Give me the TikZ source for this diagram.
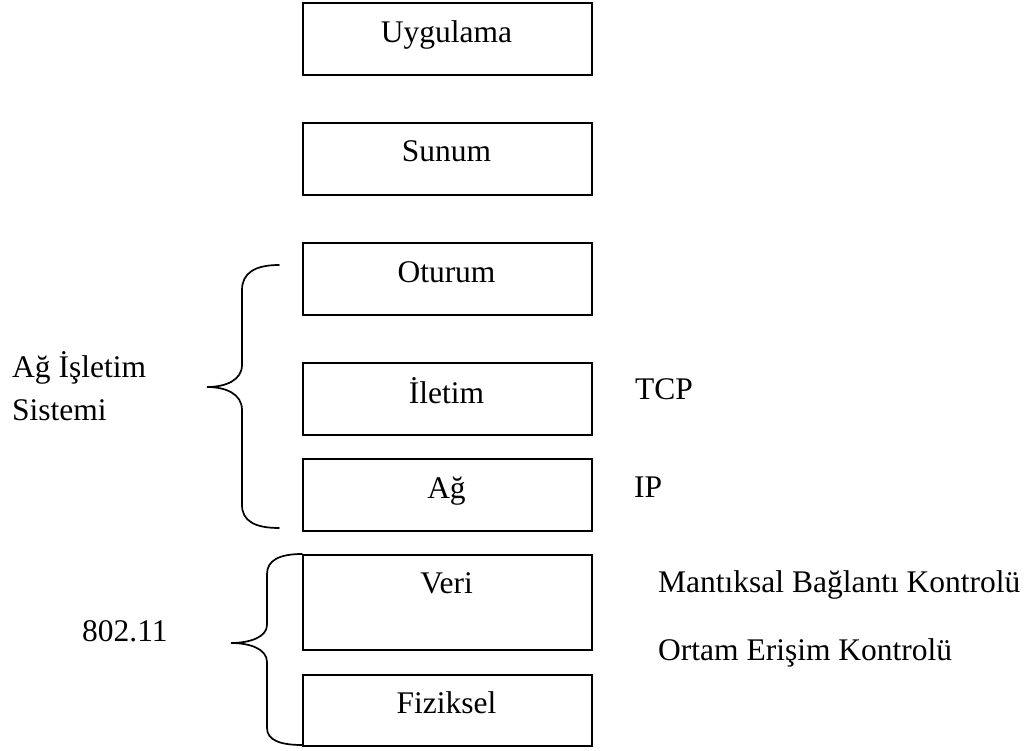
\documentclass[tikz,border=0pt]{standalone}
\usepackage{fontspec}
\setmainfont{Liberation Serif}
\begin{document}
\begin{tikzpicture}[x=1pt,y=-1pt,
  layer/.style={draw=black,line width=1.7pt,anchor=north west,minimum width=289pt,inner sep=0pt},
  txt/.style={anchor=base,inner sep=0pt,font=\fontsize{31.5}{38}\selectfont},
  ltxt/.style={anchor=base west,inner sep=0pt,font=\fontsize{31.5}{38}\selectfont},
  brace/.style={draw=black,line width=1.7pt,line cap=round}]
\useasboundingbox (0,0) rectangle (1036,751);

% protocol layers
\node[layer,minimum height=72pt] (uyg) at (302,2) {};
\node[layer,minimum height=72pt] (sun) at (302,122) {};
\node[layer,minimum height=72pt] (otu) at (302,242) {};
\node[layer,minimum height=72pt] (ile) at (302,362) {};
\node[layer,minimum height=72pt] (ag)  at (302,458) {};
\node[layer,minimum height=95pt] (ver) at (302,554) {};
\node[layer,minimum height=71pt] (fiz) at (302,674) {};

% layer names
\node[txt] (tuyg) at (446.5,43) {Uygulama};
\node[txt] (tsun) at (446.5,162) {Sunum};
\node[txt] (totu) at (446.5,283) {Oturum};
\node[txt] (tile) at (446.5,403) {İletim};
\node[txt] (tag)  at (446.5,498) {Ağ};
\node[txt] (tver) at (446.5,593) {Veri};
\node[txt] (tfiz) at (446.5,713) {Fiziksel};

% protocols beside the layers
\node[ltxt] (tcp) at (635,399) {TCP};
\node[ltxt] (ip)  at (634,497) {IP};
\node[ltxt] (llc) at (658,592) {Mantıksal Bağlantı Kontrolü};
\node[ltxt] (mac) at (658,660) {Ortam Erişim Kontrolü};

% group labels
\node[ltxt] (nos1) at (12,377) {Ağ İşletim};
\node[ltxt] (nos2) at (12,420) {Sistemi};
\node[ltxt] (wifi) at (82,641) {802.11};

% braces
\draw[brace] (279,265) .. controls (255,265) and (242,273) .. (242,290)
  -- (242,365) .. controls (242,380) and (226,387) .. (207,387)
  .. controls (226,387) and (242,394) .. (242,410)
  -- (242,505) .. controls (242,521) and (255,528) .. (279,528);
\draw[brace] (302,554) .. controls (280,554) and (267,560) .. (267,574)
  -- (267,625) .. controls (267,637) and (250,643) .. (231,643)
  .. controls (250,643) and (267,649) .. (267,662)
  -- (267,728) .. controls (267,740) and (280,745) .. (302,745);
\end{tikzpicture}
\end{document}
